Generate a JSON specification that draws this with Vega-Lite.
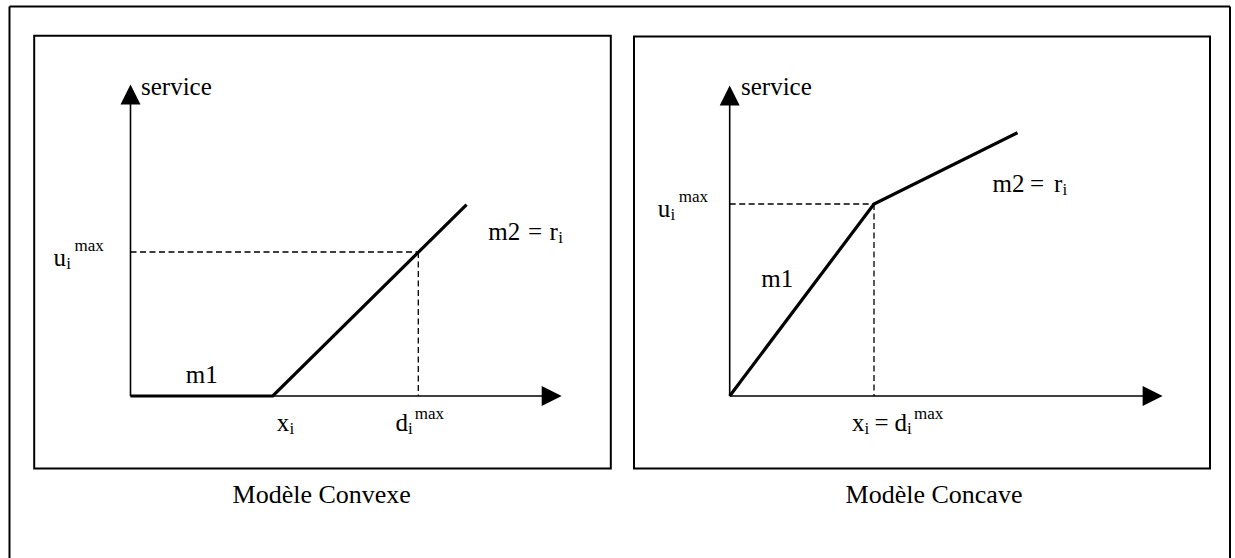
{
  "$schema": "https://vega.github.io/schema/vega-lite/v6.json",
  "width": 1235,
  "height": 558,
  "autosize": {"type": "fit", "contains": "padding"},
  "padding": 0,
  "background": "white",
  "view": {"stroke": null},
  "datasets": {
    "frame": [
      {"x": 9.5, "y": 6.5, "x2": 1230, "y2": 6.5},
      {"x": 9.5, "y": 6.5, "x2": 9.5, "y2": 558},
      {"x": 1230, "y": 6.5, "x2": 1230, "y2": 558}
    ],
    "boxes": [
      {"panel": "convexe", "x": 34.2, "y": 35.8, "x2": 610.8, "y2": 468.5},
      {"panel": "concave", "x": 634, "y": 36.5, "x2": 1210, "y2": 468.5}
    ],
    "axes": [
      {"panel": "convexe", "x": 130.5, "y": 396, "x2": 130.5, "y2": 100},
      {"panel": "convexe", "x": 130.5, "y": 396, "x2": 545, "y2": 396},
      {"panel": "concave", "x": 729.7, "y": 396, "x2": 729.7, "y2": 100},
      {"panel": "concave", "x": 729.7, "y": 396, "x2": 1155, "y2": 396}
    ],
    "dashed": [
      {"panel": "convexe", "x": 130.5, "y": 252, "x2": 418.3, "y2": 252},
      {"panel": "convexe", "x": 418.3, "y": 252, "x2": 418.3, "y2": 396},
      {"panel": "concave", "x": 729.7, "y": 204, "x2": 874, "y2": 204},
      {"panel": "concave", "x": 874, "y": 204, "x2": 874, "y2": 396}
    ],
    "curves": [
      {"panel": "convexe", "seq": 1, "x": 130.5, "y": 396},
      {"panel": "convexe", "seq": 2, "x": 272.8, "y": 396},
      {"panel": "convexe", "seq": 3, "x": 466.6, "y": 204.6},
      {"panel": "concave", "seq": 1, "x": 729.7, "y": 396},
      {"panel": "concave", "seq": 2, "x": 874, "y": 204},
      {"panel": "concave", "seq": 3, "x": 1017.5, "y": 132.7}
    ],
    "arrowsUp": [
      {"panel": "convexe", "x": 130.5, "y": 94.5},
      {"panel": "concave", "x": 729.7, "y": 95.4}
    ],
    "arrowsRight": [
      {"panel": "convexe", "x": 551.7, "y": 396},
      {"panel": "concave", "x": 1152.6, "y": 396}
    ],
    "labels": [
      {"role": "main", "label": "service", "x": 141, "y": 94.5},
      {"role": "main", "label": "service", "x": 741, "y": 94.5},
      {"role": "main", "label": "u", "x": 53.4, "y": 266},
      {"role": "small", "label": "i", "x": 66.2, "y": 269},
      {"role": "small", "label": "max", "x": 74.5, "y": 251},
      {"role": "main", "label": "u", "x": 657.7, "y": 216.5},
      {"role": "small", "label": "i", "x": 670.5, "y": 219.5},
      {"role": "small", "label": "max", "x": 678.8, "y": 201.8},
      {"role": "main", "label": "m2", "x": 488.3, "y": 240},
      {"role": "main", "label": "=", "x": 528, "y": 240},
      {"role": "main", "label": "r", "x": 549.6, "y": 240},
      {"role": "small", "label": "i", "x": 558.2, "y": 243},
      {"role": "main", "label": "m2", "x": 992.6, "y": 191.5},
      {"role": "main", "label": "=", "x": 1030, "y": 191.5},
      {"role": "main", "label": "r", "x": 1054, "y": 191.5},
      {"role": "small", "label": "i", "x": 1062.6, "y": 194.5},
      {"role": "main", "label": "m1", "x": 185.8, "y": 382.6},
      {"role": "main", "label": "m1", "x": 761.3, "y": 286.5},
      {"role": "main", "label": "x", "x": 276.8, "y": 430.6},
      {"role": "small", "label": "i", "x": 289.4, "y": 433.6},
      {"role": "main", "label": "d", "x": 395.4, "y": 430.6},
      {"role": "small", "label": "i", "x": 408, "y": 433.6},
      {"role": "small", "label": "max", "x": 414.8, "y": 419},
      {"role": "main", "label": "x", "x": 852, "y": 430.6},
      {"role": "small", "label": "i", "x": 864.6, "y": 433.6},
      {"role": "main", "label": "=", "x": 874.5, "y": 430.6},
      {"role": "main", "label": "d", "x": 894.5, "y": 430.6},
      {"role": "small", "label": "i", "x": 907.1, "y": 433.6},
      {"role": "small", "label": "max", "x": 914, "y": 419},
      {"role": "caption", "label": "Modèle Convexe", "x": 321.7, "y": 503},
      {"role": "caption", "label": "Modèle Concave", "x": 934, "y": 503}
    ]
  },
  "encoding": {
    "x": {"field": "x", "type": "quantitative", "scale": {"domain": [0, 1235], "nice": false, "zero": false}, "axis": null},
    "y": {"field": "y", "type": "quantitative", "scale": {"domain": [0, 558], "nice": false, "zero": false, "reverse": true}, "axis": null}
  },
  "layer": [
    {
      "data": {"name": "frame"},
      "mark": {"type": "rule", "color": "black", "strokeWidth": 2, "clip": true},
      "encoding": {"x2": {"field": "x2"}, "y2": {"field": "y2"}}
    },
    {
      "data": {"name": "boxes"},
      "mark": {"type": "rect", "fill": null, "fillOpacity": 0, "stroke": "black", "strokeWidth": 2},
      "encoding": {"x2": {"field": "x2"}, "y2": {"field": "y2"}}
    },
    {
      "data": {"name": "axes"},
      "mark": {"type": "rule", "color": "black", "strokeWidth": 1.6},
      "encoding": {"x2": {"field": "x2"}, "y2": {"field": "y2"}}
    },
    {
      "data": {"name": "dashed"},
      "mark": {"type": "rule", "color": "black", "strokeWidth": 1.3, "strokeDash": [6, 3.5]},
      "encoding": {"x2": {"field": "x2"}, "y2": {"field": "y2"}}
    },
    {
      "data": {"name": "curves"},
      "mark": {"type": "line", "color": "black", "strokeWidth": 3.2, "strokeJoin": "miter", "strokeCap": "butt"},
      "encoding": {"detail": {"field": "panel"}, "order": {"field": "seq", "type": "quantitative"}}
    },
    {
      "data": {"name": "arrowsUp"},
      "mark": {"type": "point", "shape": "M0,-1L-1,1L1,1Z", "filled": true, "color": "black", "opacity": 1, "size": 400, "strokeWidth": 0}
    },
    {
      "data": {"name": "arrowsRight"},
      "mark": {"type": "point", "shape": "M1,0L-1,-1L-1,1Z", "filled": true, "color": "black", "opacity": 1, "size": 400, "strokeWidth": 0}
    },
    {
      "data": {"name": "labels"},
      "transform": [{"filter": "datum.role === 'main'"}],
      "mark": {"type": "text", "align": "left", "baseline": "alphabetic", "font": "Liberation Serif", "fontSize": 25, "color": "black"},
      "encoding": {"text": {"field": "label"}}
    },
    {
      "data": {"name": "labels"},
      "transform": [{"filter": "datum.role === 'small'"}],
      "mark": {"type": "text", "align": "left", "baseline": "alphabetic", "font": "Liberation Serif", "fontSize": 17, "color": "black"},
      "encoding": {"text": {"field": "label"}}
    },
    {
      "data": {"name": "labels"},
      "transform": [{"filter": "datum.role === 'caption'"}],
      "mark": {"type": "text", "align": "center", "baseline": "alphabetic", "font": "Liberation Serif", "fontSize": 26, "color": "black"},
      "encoding": {"text": {"field": "label"}}
    }
  ]
}
